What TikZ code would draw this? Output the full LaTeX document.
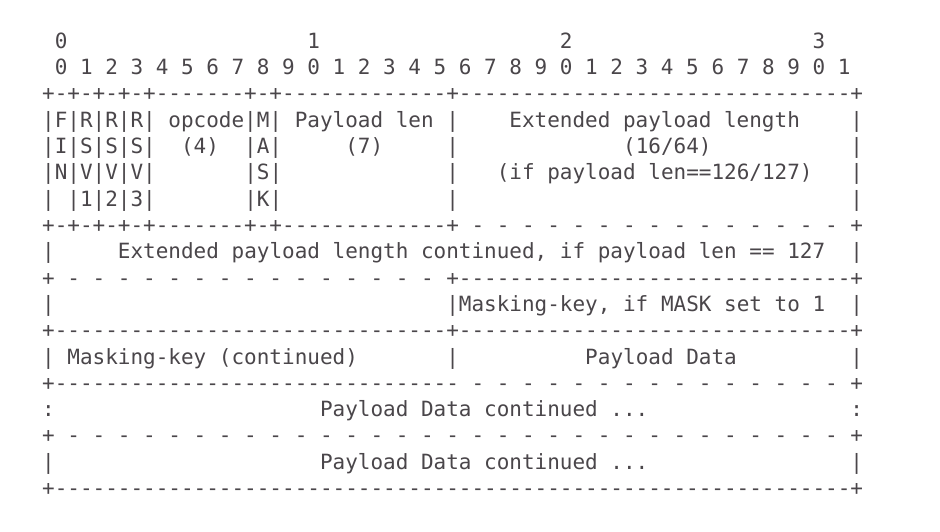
\documentclass[tikz,border=0pt]{standalone}
\usepackage{fontspec}
\setmonofont{DejaVu Sans Mono}
\usepackage{tikz}
\usepackage{xcolor}
\definecolor{asciigray}{RGB}{74,70,74}
\newcommand{\gap}[1]{\hspace*{#1\fontcharwd\font`0}}
\newcommand{\dashes}[1]{\foreach \k in {1,...,#1}{-}}
\newcommand{\spdashes}[1]{\foreach \k in {1,...,#1}{\gap{1}-}}
\tikzstyle{asciirow} = [anchor=base west, inner sep=0pt, outer sep=0pt, text=asciigray, font=\fontsize{10.5}{13}\selectfont\ttfamily]

\begin{document}
\begin{tikzpicture}[x=6.3215pt, y=-13.169pt]
% page
\path[fill=white] (-3.341,-1.836) rectangle (71.09,18.347);
% bit numbers
\node[asciirow] (tens) at (0,0) {\gap{1}0\gap{19}1\gap{19}2\gap{19}3};
\node[asciirow] (bits) at (0,1) {\gap{1}0 1 2 3 4 5 6 7 8 9 0 1 2 3 4 5 6 7 8 9 0 1 2 3 4 5 6 7 8 9 0 1};
% first word: flags, opcode, mask, payload len
\node[asciirow] (r2) at (0,2) {+-+-+-+-+\dashes{7}+-+\dashes{13}+\dashes{31}+};
\node[asciirow] (r3) at (0,3) {|F|R|R|R| opcode|M| Payload len |\gap{4}Extended payload length\gap{4}|};
\node[asciirow] (r4) at (0,4) {|I|S|S|S|\gap{2}(4)\gap{2}|A|\gap{5}(7)\gap{5}|\gap{13}(16/64)\gap{11}|};
\node[asciirow] (r5) at (0,5) {|N|V|V|V|\gap{7}|S|\gap{13}|\gap{3}(if payload len==126/127)\gap{3}|};
\node[asciirow] (r6) at (0,6) {|\gap{1}|1|2|3|\gap{7}|K|\gap{13}|\gap{31}|};
\node[asciirow] (r7) at (0,7) {+-+-+-+-+\dashes{7}+-+\dashes{13}+\spdashes{15}\gap{1}+};
% extended length and masking key
\node[asciirow] (r8) at (0,8) {|\gap{5}Extended payload length continued, if payload len == 127\gap{2}|};
\node[asciirow] (r9) at (0,9) {+\spdashes{15}\gap{1}+\dashes{31}+};
\node[asciirow] (r10) at (0,10) {|\gap{31}|Masking-key, if MASK set to 1\gap{2}|};
\node[asciirow] (r11) at (0,11) {+\dashes{31}+\dashes{31}+};
\node[asciirow] (r12) at (0,12) {| Masking-key (continued)\gap{7}|\gap{10}Payload Data\gap{9}|};
% payload data
\node[asciirow] (r13) at (0,13) {+\dashes{32}\spdashes{15}\gap{1}+};
\node[asciirow] (r14) at (0,14) {:\gap{21}Payload Data continued ...\gap{16}:};
\node[asciirow] (r15) at (0,15) {+\spdashes{31}\gap{1}+};
\node[asciirow] (r16) at (0,16) {|\gap{21}Payload Data continued ...\gap{16}|};
\node[asciirow] (r17) at (0,17) {+\dashes{63}+};
\end{tikzpicture}
\end{document}
